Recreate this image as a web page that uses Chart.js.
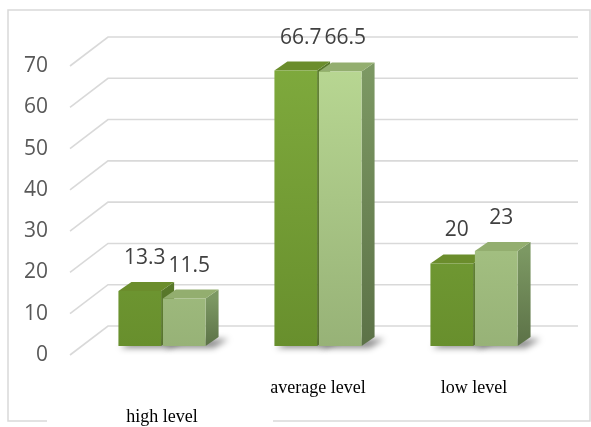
<!DOCTYPE html>
<html>
<head>
<meta charset="utf-8">
<script src="https://cdn.jsdelivr.net/npm/chart.js@4"></script>
<style>
  html, body { margin: 0; padding: 0; background: #fff; }
  #wrap { width: 591px; height: 427px; position: relative; }
</style>
</head>
<body>
<div id="wrap"><canvas id="chart"></canvas></div>
<script>
// ── DATA ──────────────────────────────────────────────────────────
const categories  = ["high level", "average level", "low level"];
const xTickLabels = [["", "high level"], ["average level"], ["low level"]];
const seriesA     = [13.3, 66.7, 20];
const seriesB     = [11.5, 66.5, 23];
const yTicks      = [0, 10, 20, 30, 40, 50, 60, 70];

// 3D look — offsets relative to the bar front plane
const DEPTH_X = 13, DEPTH_Y = -9;     // bar top / side depth
const FRONT_DY = 9;                   // front edge of the floor/labels
const BACK_DX = 38, BACK_DY = -20;    // back wall (relative to bar front)
const WALL_RIGHT = 578;

const colors = {
  aTop: "#7faa3d", aBottom: "#688f2d", aCap: "#6b8d2c", aSide: "#58782a",
  bTop: "#b9d893", bBottom: "#97b277", bCap: "#93ae6f", bSide: "#6f8a55",
  grid: "#d9d9d9", label: "#595959", value: "#404040", border: "#d9d9d9"
};

function frontGradient(ctx, top, bottom) {
  const { chart } = ctx;
  const area = chart.chartArea;
  if (!area) return top;
  const g = chart.ctx.createLinearGradient(0, area.top, 0, area.bottom);
  g.addColorStop(0, top);
  g.addColorStop(1, bottom);
  return g;
}

// ── PLUGIN: frame, back wall, 3D faces, labels ────────────────────
const chart3d = {
  id: "chart3d",
  beforeDraw(chart) {
    const c = chart.ctx;
    c.save();
    c.fillStyle = "#fff";
    c.fillRect(0, 0, chart.width, chart.height);
    c.strokeStyle = colors.border;
    c.lineWidth = 1.5;
    c.beginPath();
    c.moveTo(47, 421); c.lineTo(8, 421); c.lineTo(8, 10);
    c.lineTo(590, 10); c.lineTo(590, 421); c.lineTo(273, 421);
    c.stroke();
    c.restore();
  },
  beforeDatasetsDraw(chart) {
    const c = chart.ctx;
    const y = chart.scales.y;
    const left = chart.chartArea.left;
    const frontX = left - 14;
    c.save();
    // back wall grid + floor diagonals
    c.strokeStyle = colors.grid;
    c.lineWidth = 1.6;
    yTicks.forEach(v => {
      const py = y.getPixelForValue(v);
      const fx = frontX, fy = py + FRONT_DY;
      const bx = left + BACK_DX - 14, by = py + BACK_DY;
      c.beginPath();
      c.moveTo(fx, fy);
      c.lineTo(bx, by);
      c.lineTo(WALL_RIGHT, by);
      c.stroke();
      // tick label
      c.fillStyle = colors.label;
      c.font = "21px 'Open Sans', sans-serif";
      c.textAlign = "right";
      c.textBaseline = "middle";
      c.fillText(String(v), 48, fy);
    });

    // soft shadows at the base of each bar
    chart.data.datasets.forEach((ds, di) => {
      chart.getDatasetMeta(di).data.forEach(bar => {
        const l = bar.x - bar.width / 2, r = bar.x + bar.width / 2;
        const b = bar.base;
        c.save();
        c.filter = "blur(3px)";
        c.fillStyle = "rgba(0,0,0,0.45)";
        c.beginPath();
        c.moveTo(l + 2, b + 2);
        c.lineTo(r + 8, b + 2);
        c.lineTo(r + DEPTH_X + 10, b + DEPTH_Y + 2);
        c.lineTo(l + DEPTH_X, b + DEPTH_Y + 2);
        c.closePath();
        c.fill();
        c.restore();
      });
    });

    // top and side faces (fronts drawn afterwards by Chart.js)
    chart.data.datasets.forEach((ds, di) => {
      chart.getDatasetMeta(di).data.forEach(bar => {
        const l = bar.x - bar.width / 2, r = bar.x + bar.width / 2;
        const t = bar.y, b = bar.base;
        const sg = c.createLinearGradient(0, t, 0, b);
        sg.addColorStop(0, di === 0 ? colors.aSide : "#7c9863");
        sg.addColorStop(1, di === 0 ? "#4f6b25" : "#5c7247");
        c.fillStyle = sg;
        c.beginPath();
        c.moveTo(r, t); c.lineTo(r + DEPTH_X, t + DEPTH_Y);
        c.lineTo(r + DEPTH_X, b + DEPTH_Y); c.lineTo(r, b);
        c.closePath(); c.fill();

        c.fillStyle = di === 0 ? colors.aCap : colors.bCap;
        c.beginPath();
        c.moveTo(l, t); c.lineTo(l + DEPTH_X, t + DEPTH_Y);
        c.lineTo(r + DEPTH_X, t + DEPTH_Y); c.lineTo(r, t);
        c.closePath(); c.fill();
      });
    });
    c.restore();
  },
  afterDatasetsDraw(chart) {
    const c = chart.ctx;
    c.save();
    c.fillStyle = colors.value;
    c.font = "21px 'Open Sans', sans-serif";
    c.textAlign = "center";
    c.textBaseline = "middle";
    chart.data.datasets.forEach((ds, di) => {
      chart.getDatasetMeta(di).data.forEach((bar, i) => {
        c.fillText(String(ds.data[i]), bar.x + 5, bar.y - 33);
      });
    });
    c.restore();
  }
};

new Chart(document.getElementById("chart"), {
  type: "bar",
  data: {
    labels: xTickLabels,
    datasets: [
      {
        label: "A",
        data: seriesA,
        backgroundColor: ctx => frontGradient(ctx, colors.aTop, colors.aBottom),
        borderWidth: 0,
        barPercentage: 0.96,
        categoryPercentage: 0.57
      },
      {
        label: "B",
        data: seriesB,
        backgroundColor: ctx => frontGradient(ctx, colors.bTop, colors.bBottom),
        borderWidth: 0,
        barPercentage: 0.96,
        categoryPercentage: 0.57
      }
    ]
  },
  options: {
    responsive: true,
    maintainAspectRatio: false,
    animation: false,
    devicePixelRatio: 1,
    layout: { padding: { left: 84, right: 39, top: 57, bottom: 0 } },
    plugins: { legend: { display: false }, tooltip: { enabled: false } },
    scales: {
      x: {
        grid: { display: false, drawTicks: false },
        border: { display: false },
        ticks: {
          color: "#000",
          font: { family: "'Liberation Serif', 'Times New Roman', serif", size: 18, lineHeight: 1.65 },
          padding: 27,
          maxRotation: 0,
          autoSkip: false
        },
        afterFit: s => { s.height = 81; }
      },
      y: { display: false, min: 0, max: 70 }
    }
  },
  plugins: [chart3d]
});
</script>
</body>
</html>
